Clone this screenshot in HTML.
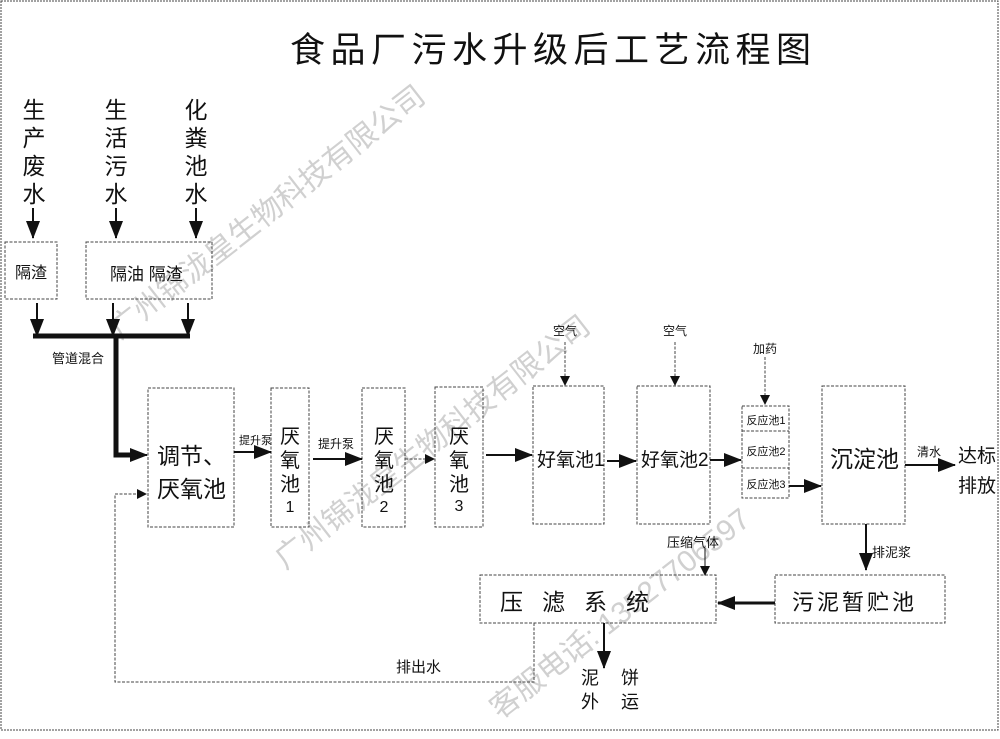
<!DOCTYPE html>
<html><head><meta charset="utf-8"><style>
body{margin:0;background:#fff}
svg text{font-family:"Liberation Sans","Noto Sans CJK SC",sans-serif;fill:#111}
</style></head><body>
<svg width="1000" height="734" viewBox="0 0 1000 734" xmlns="http://www.w3.org/2000/svg">
<defs>
<marker id="a" markerWidth="10" markerHeight="10" refX="9" refY="5" orient="auto" markerUnits="userSpaceOnUse" viewBox="0 0 10 10"><path d="M0,0 L10,5 L0,10 z" fill="#111"/></marker>
<marker id="b" markerWidth="18" markerHeight="14" refX="17" refY="7" orient="auto" markerUnits="userSpaceOnUse" viewBox="0 0 18 14"><path d="M0,0 L18,7 L0,14 z" fill="#111"/></marker>
</defs>
<rect x="1" y="1" width="997" height="729" fill="none" stroke="#444" stroke-dasharray="2,1"/>
<g style="font-size:30px">
<text x="120" y="340" transform="rotate(-38 120 340)" style="fill:#d0d0d0">广州锦泷皇生物科技有限公司</text>
<text x="285" y="570" transform="rotate(-38 285 570)" style="fill:#d0d0d0">广州锦泷皇生物科技有限公司</text>
<text x="500" y="720" transform="rotate(-38 500 720)" style="fill:#d0d0d0">客服电话: 13527706597</text>
</g>
<text x="290" y="62" style="font-size:35px;letter-spacing:5.5px">食品厂污水升级后工艺流程图</text>
<g style="font-size:23px" text-anchor="middle">
<text x="34" y="118">生</text><text x="34" y="146">产</text><text x="34" y="174">废</text><text x="34" y="202">水</text>
<text x="116" y="118">生</text><text x="116" y="146">活</text><text x="116" y="174">污</text><text x="116" y="202">水</text>
<text x="196" y="118">化</text><text x="196" y="146">粪</text><text x="196" y="174">池</text><text x="196" y="202">水</text>
</g>
<g stroke="#111" stroke-width="2" fill="none">
<line x1="33" y1="208" x2="33" y2="238" marker-end="url(#b)"/>
<line x1="116" y1="208" x2="116" y2="238" marker-end="url(#b)"/>
<line x1="196" y1="208" x2="196" y2="238" marker-end="url(#b)"/>
<line x1="37" y1="303" x2="37" y2="336" marker-end="url(#b)"/>
<line x1="113" y1="303" x2="113" y2="336" marker-end="url(#b)"/>
<line x1="188" y1="303" x2="188" y2="336" marker-end="url(#b)"/>
</g>
<g fill="none" stroke="#444" stroke-width="1" stroke-dasharray="3,1.5">
<rect x="5" y="242" width="52" height="57"/>
<rect x="86" y="242" width="126" height="57"/>
<rect x="148" y="388" width="86" height="139"/>
<rect x="271" y="388" width="38" height="139"/>
<rect x="362" y="388" width="43" height="139"/>
<rect x="435" y="387" width="48" height="140"/>
<rect x="533" y="386" width="71" height="138"/>
<rect x="637" y="386" width="73" height="138"/>
<rect x="742" y="406" width="47" height="92"/>
<line x1="742" y1="431" x2="789" y2="431"/>
<line x1="742" y1="468" x2="789" y2="468"/>
<rect x="822" y="386" width="83" height="138"/>
<rect x="775" y="575" width="170" height="48"/>
<rect x="480" y="575" width="236" height="48"/>
<polyline points="534,623 534,682 115,682 115,494 146,494" marker-end="url(#a)"/>
<line x1="565" y1="342" x2="565" y2="385" marker-end="url(#a)"/>
<line x1="675" y1="342" x2="675" y2="385" marker-end="url(#a)"/>
<line x1="765" y1="357" x2="765" y2="404" marker-end="url(#a)"/>
<line x1="405" y1="459" x2="434" y2="459" marker-end="url(#a)"/>
</g>
<g stroke="#111" fill="none">
<line x1="33" y1="336" x2="190" y2="336" stroke-width="5"/>
<polyline points="116,336 116,455 130,455" stroke-width="5"/>
<line x1="128" y1="455" x2="147" y2="455" stroke-width="2" marker-end="url(#b)"/>
<line x1="234" y1="452" x2="271" y2="452" stroke-width="2" marker-end="url(#b)"/>
<line x1="313" y1="459" x2="362" y2="459" stroke-width="2" marker-end="url(#b)"/>
<line x1="486" y1="455" x2="532" y2="455" stroke-width="2" marker-end="url(#b)"/>
<line x1="607" y1="461" x2="636" y2="461" stroke-width="2" marker-end="url(#b)"/>
<line x1="710" y1="460" x2="741" y2="460" stroke-width="2" marker-end="url(#b)"/>
<line x1="789" y1="486" x2="821" y2="486" stroke-width="2" marker-end="url(#b)"/>
<line x1="905" y1="465" x2="955" y2="465" stroke-width="2" marker-end="url(#b)"/>
<line x1="866" y1="524" x2="866" y2="570" stroke-width="2" marker-end="url(#b)"/>
<line x1="775" y1="603" x2="718" y2="603" stroke-width="3" marker-end="url(#b)"/>
<line x1="705" y1="548" x2="705" y2="575" stroke-width="1" marker-end="url(#a)"/>
<line x1="604" y1="623" x2="604" y2="668" stroke-width="2" marker-end="url(#b)"/>
</g>
<g style="font-size:16px">
<text x="15" y="278">隔渣</text>
<text x="110" y="280" style="font-size:17px">隔油 隔渣</text>
<text x="52" y="363" style="font-size:13px">管道混合</text>
<text x="239" y="444" style="font-size:11px">提升泵</text>
<text x="318" y="448" style="font-size:12px">提升泵</text>
<text x="553" y="335" style="font-size:12px">空气</text>
<text x="663" y="335" style="font-size:12px">空气</text>
<text x="753" y="353" style="font-size:12px">加药</text>
<text x="917" y="456" style="font-size:12px">清水</text>
<text x="872" y="557" style="font-size:13px">排泥浆</text>
<text x="667" y="547" style="font-size:13px">压缩气体</text>
<text x="396" y="672" style="font-size:15px">排出水</text>
</g>
<g style="font-size:11px" text-anchor="middle">
<text x="766" y="424">反应池1</text><text x="766" y="455">反应池2</text><text x="766" y="488">反应池3</text>
</g>
<g style="font-size:23px">
<text x="157" y="464">调节、</text>
<text x="157" y="497">厌氧池</text>
<text x="537" y="466" style="font-size:19px">好氧池1</text>
<text x="641" y="466" style="font-size:19px">好氧池2</text>
<text x="830" y="467">沉淀池</text>
<text x="958" y="462" style="font-size:19px">达标</text>
<text x="958" y="492" style="font-size:19px">排放</text>
<text x="500" y="610" style="letter-spacing:19px">压滤系统</text>
<text x="792" y="610" style="font-size:22px;letter-spacing:3px">污泥暂贮池</text>
</g>
<g style="font-size:20px" text-anchor="middle">
<text x="290" y="443">厌</text><text x="290" y="467">氧</text><text x="290" y="491">池</text>
<text x="384" y="443">厌</text><text x="384" y="467">氧</text><text x="384" y="491">池</text>
<text x="459" y="443">厌</text><text x="459" y="467">氧</text><text x="459" y="491">池</text>
</g>
<g style="font-size:16px" text-anchor="middle">
<text x="290" y="512">1</text><text x="384" y="512">2</text><text x="459" y="511">3</text>
</g>
<g style="font-size:18px" text-anchor="middle">
<text x="590" y="684">泥</text><text x="630" y="684">饼</text>
<text x="590" y="708">外</text><text x="630" y="708">运</text>
</g>
</svg>
</body></html>
